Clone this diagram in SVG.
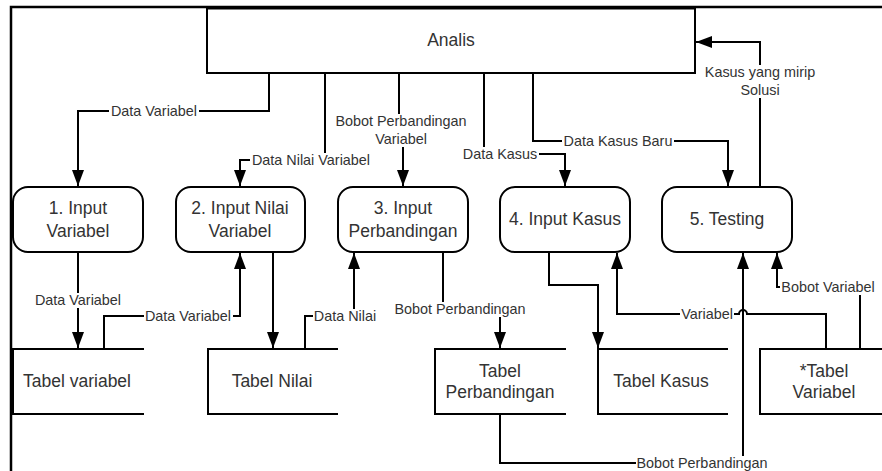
<svg xmlns="http://www.w3.org/2000/svg" width="882" height="471" viewBox="0 0 882 471">
<style>
  .box{fill:#fff;stroke:#000;stroke-width:2}
  .store{fill:none;stroke:#000;stroke-width:2}
  .ln{fill:none;stroke:#000;stroke-width:2}
  .bg{fill:#fff;stroke:none}
  .nt{font-family:"Liberation Sans",Arial,sans-serif;font-size:17.5px;fill:#333;text-anchor:middle}
  .lb{font-family:"Liberation Sans",Arial,sans-serif;font-size:14.4px;fill:#333;text-anchor:middle}
</style>
<defs>
  <marker id="arr" markerUnits="userSpaceOnUse" markerWidth="17" markerHeight="12" refX="16" refY="6" orient="auto">
    <path d="M0,0 L16,6 L0,12 z" fill="#000"/>
  </marker>
</defs>
<rect width="882" height="471" fill="#fff"/>
<path d="M11,471 V7 H882" fill="none" stroke="#000" stroke-width="2.5"/>

<g id="connectors">
  <path class="ln" d="M269,73 V111 H78 V186" marker-end="url(#arr)"/>
  <path class="ln" d="M325,73 V160 H240 V186" marker-end="url(#arr)"/>
  <path class="ln" d="M399,73 V130 H403 V186" marker-end="url(#arr)"/>
  <path class="ln" d="M484,73 V154 H565 V186" marker-end="url(#arr)"/>
  <path class="ln" d="M533,73 V141 H728 V186" marker-end="url(#arr)"/>
  <path class="ln" d="M760,187 V42 H696" marker-end="url(#arr)"/>
  <path class="ln" d="M78,252 V348" marker-end="url(#arr)"/>
  <path class="ln" d="M104,349 V316 H240 V253" marker-end="url(#arr)"/>
  <path class="ln" d="M273,252 V348" marker-end="url(#arr)"/>
  <path class="ln" d="M305,349 V316 H354 V253" marker-end="url(#arr)"/>
  <path class="ln" d="M443,252 V309 H500 V348" marker-end="url(#arr)"/>
  <path class="ln" d="M549,252 V285 H598 V348" marker-end="url(#arr)"/>
  <path class="ln" d="M500,414 V463 H743 V253" marker-end="url(#arr)"/>
  <path class="ln" d="M826,349 V314 H747 A4,4 0 0 0 739,314 H617 V253" marker-end="url(#arr)"/>
  <path class="ln" d="M860,349 V287 H777 V253" marker-end="url(#arr)"/>
  <rect class="bg" x="109" y="104" width="90" height="15"/>
  <text class="lb" x="154" y="116">Data Variabel</text>
  <rect class="bg" x="250" y="153" width="122" height="15"/>
  <text class="lb" x="311" y="165">Data Nilai Variabel</text>
  <rect class="bg" x="335" y="114" width="133" height="33"/>
  <text class="lb" x="401" y="126">Bobot Perbandingan</text>
  <text class="lb" x="401" y="143.5">Variabel</text>
  <rect class="bg" x="462" y="147" width="77" height="15"/>
  <text class="lb" x="500" y="159">Data Kasus</text>
  <rect class="bg" x="562" y="134" width="112" height="15"/>
  <text class="lb" x="618" y="146">Data Kasus Baru</text>
  <rect class="bg" x="704" y="65" width="112" height="33"/>
  <text class="lb" x="760" y="77">Kasus yang mirip</text>
  <text class="lb" x="760" y="95">Solusi</text>
  <rect class="bg" x="34" y="293" width="88" height="15"/>
  <text class="lb" x="78" y="305">Data Variabel</text>
  <rect class="bg" x="144" y="309" width="89" height="15"/>
  <text class="lb" x="188" y="321">Data Variabel</text>
  <rect class="bg" x="313" y="309" width="64" height="15"/>
  <text class="lb" x="345" y="321">Data Nilai</text>
  <rect class="bg" x="394" y="302" width="133" height="15"/>
  <text class="lb" x="460" y="314">Bobot Perbandingan</text>
  <rect class="bg" x="636" y="456" width="133" height="15"/>
  <text class="lb" x="702" y="468">Bobot Perbandingan</text>
  <rect class="bg" x="680" y="307" width="54" height="15"/>
  <text class="lb" x="707" y="319">Variabel</text>
  <rect class="bg" x="780" y="280" width="96" height="15"/>
  <text class="lb" x="828" y="292">Bobot Variabel</text>
</g>

<g id="analis">
  <rect class="box" x="207" y="8.5" width="488" height="64.5"/>
  <text class="nt" x="451" y="46">Analis</text>
</g>
<g id="p1">
  <rect class="box" x="13" y="187" width="130" height="65" rx="15"/>
  <text class="nt" x="78" y="214">1. Input</text>
  <text class="nt" x="78" y="237">Variabel</text>
</g>
<g id="p2">
  <rect class="box" x="176" y="187" width="129" height="65" rx="15"/>
  <text class="nt" x="240" y="214">2. Input Nilai</text>
  <text class="nt" x="240" y="237">Variabel</text>
</g>
<g id="p3">
  <rect class="box" x="338" y="187" width="130" height="65" rx="15"/>
  <text class="nt" x="403" y="214">3. Input</text>
  <text class="nt" x="403" y="237">Perbandingan</text>
</g>
<g id="p4">
  <rect class="box" x="500" y="187" width="130" height="65" rx="15"/>
  <text class="nt" x="565" y="225">4. Input Kasus</text>
</g>
<g id="p5">
  <rect class="box" x="662" y="187" width="130" height="65" rx="15"/>
  <text class="nt" x="727" y="225">5. Testing</text>
</g>
<g id="s1">
  <path class="store" d="M144,349 H13 V414 H144"/>
  <text class="nt" x="77" y="387">Tabel variabel</text>
</g>
<g id="s2">
  <path class="store" d="M338,349 H208 V414 H338"/>
  <text class="nt" x="272" y="387">Tabel Nilai</text>
</g>
<g id="s3">
  <path class="store" d="M566,349 H435 V414 H566"/>
  <text class="nt" x="500" y="377">Tabel</text>
  <text class="nt" x="500" y="398">Perbandingan</text>
</g>
<g id="s4">
  <path class="store" d="M728,349 H598 V414 H728"/>
  <text class="nt" x="661" y="387">Tabel Kasus</text>
</g>
<g id="s5">
  <path class="store" d="M882,349 H760 V414 H882"/>
  <text class="nt" x="824" y="377">*Tabel</text>
  <text class="nt" x="824" y="398">Variabel</text>
</g>
</svg>
